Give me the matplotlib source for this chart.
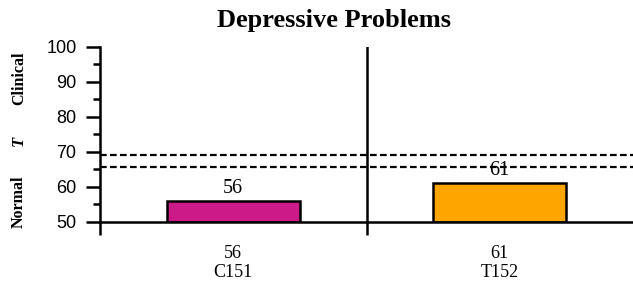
import numpy as np
import matplotlib.pyplot as plt
from matplotlib.ticker import MultipleLocator, FixedLocator, NullFormatter
import matplotlib.transforms as mtransforms

# chart data
title = "Depressive Problems"
categories = ["C151", "T152"]
scores = [56, 61]
bar_colors = ["#CC1A88", "#FFA500"]
borderline_low = 65.5
borderline_high = 69
y_min, y_max = 50, 100

serif = ["Liberation Serif", "DejaVu Serif"]
sans = ["Liberation Sans", "DejaVu Sans"]

fig = plt.figure(figsize=(6.33, 2.87), dpi=100)
ax = fig.add_axes([100 / 633, 1 - 221.5 / 287, 533 / 633, 175 / 287])

x = np.arange(len(categories)) + 0.5
heights = [s - y_min for s in scores]
ax.bar(x, heights, bottom=y_min, width=0.5, color=bar_colors,
       edgecolor="black", linewidth=1.8, zorder=2)

for xi, s in zip(x, scores):
    ax.text(xi, s + 0.8, str(s), ha="center", va="bottom",
            fontsize=14.5, family=serif, zorder=3)

# borderline band and group divider
for yl in (borderline_low, borderline_high):
    ax.axhline(yl, color="black", linestyle=(0, (3, 1.5)), linewidth=1.6, zorder=4)
ax.axvline(1, color="black", linewidth=1.8, zorder=4)

ax.set_xlim(0, len(categories))
ax.set_ylim(y_min, y_max)

ax.spines["top"].set_visible(False)
ax.spines["right"].set_visible(False)
ax.spines["left"].set_linewidth(1.8)
ax.spines["bottom"].set_linewidth(1.8)

ax.yaxis.set_major_locator(MultipleLocator(10))
ax.yaxis.set_minor_locator(MultipleLocator(5))
ax.tick_params(axis="y", which="major", direction="out", length=10, width=1.8,
               pad=7, labelsize=13)
ax.tick_params(axis="y", which="minor", direction="out", length=5, width=1.8)
for lab in ax.get_yticklabels():
    lab.set_family(sans)

ax.xaxis.set_major_locator(FixedLocator([0, 1]))
ax.xaxis.set_major_formatter(NullFormatter())
ax.xaxis.set_minor_locator(FixedLocator(x))
ax.set_xticklabels([f"{s}\n{c}" for s, c in zip(scores, categories)], minor=True)
ax.tick_params(axis="x", which="major", direction="out", length=9, width=1.8)
ax.tick_params(axis="x", which="minor", length=0, pad=17, labelsize=13)
for lab in ax.get_xticklabels(minor=True):
    lab.set_family(serif)
    lab.set_linespacing(1.15)

fig.text(334 / 633, 1 - 20 / 287, title, ha="center", va="center",
         fontsize=19, fontweight="bold", family=serif)

# vertical range labels on the left
trans = mtransforms.blended_transform_factory(fig.transFigure, ax.transData)
ax.text(19 / 633, 91, "Clinical", rotation=90, ha="center", va="center",
        fontsize=11.5, fontweight="bold", family=serif, transform=trans)
ax.text(19 / 633, 73, "T", rotation=90, ha="center", va="center",
        fontsize=12, fontweight="bold", style="italic", family=serif, transform=trans)
ax.text(19 / 633, 55.6, "Normal", rotation=90, ha="center", va="center",
        fontsize=11.5, fontweight="bold", family=serif, transform=trans)

fig.savefig("out.png", dpi=100)
